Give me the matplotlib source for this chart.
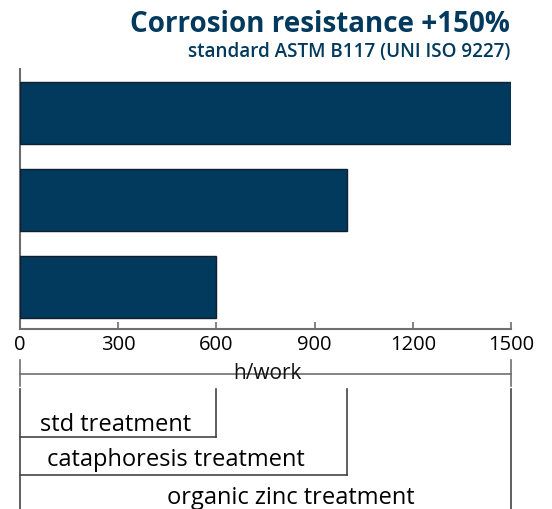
import matplotlib
matplotlib.use("Agg")
import matplotlib.pyplot as plt
from matplotlib.lines import Line2D
import matplotlib.transforms as mtransforms

# ---- data ----
categories = ["std treatment", "cataphoresis treatment", "organic zinc treatment"]
hours = [600, 1000, 1500]
xticks = [0, 300, 600, 900, 1200, 1500]
title = "Corrosion resistance +150%"
subtitle = "standard ASTM B117 (UNI ISO 9227)"
xlabel = "h/work"

W, H = 552, 509
DPI = 100
NAVY = "#023a5e"
GRAY = "#6e6e6e"
plt.rcParams['font.family'] = ['Open Sans', 'DejaVu Sans']

fig = plt.figure(figsize=(W / DPI, H / DPI), dpi=DPI)
fig.patch.set_facecolor("white")

def fy(py):
    return 1 - py / H

ax = fig.add_axes([20 / W, fy(329), (511 - 20) / W, (329 - 69) / H])
ypos = list(range(len(categories)))
ax.barh(ypos, hours, height=0.713, color=NAVY, edgecolor="#10202c", linewidth=1.0, zorder=3)
ax.set_xlim(0, 1500)
ax.set_ylim(-0.483, 2.506)
ax.set_yticks([])
ax.set_xticks(xticks)
ax.set_xticklabels([str(t) for t in xticks], fontsize=14.5, color="black")
ax.tick_params(axis="x", direction="in", length=5, width=1.2, color=GRAY, pad=4)
for s in ["top", "right"]:
    ax.spines[s].set_visible(False)
for s in ["left", "bottom"]:
    ax.spines[s].set_color(GRAY)
    ax.spines[s].set_linewidth(1.5)
ax.patch.set_alpha(0)

# titles
fig.text(510 / W, fy(32), title, ha="right", va="baseline", fontsize=20,
         fontweight="bold", color=NAVY)
fig.text(510 / W, fy(57.5), subtitle, ha="right", va="baseline", fontsize=13.6,
         fontweight="semibold", color=NAVY)

# bracket annotations below axis: x in data coords, y in figure coords
tr = mtransforms.blended_transform_factory(ax.transData, fig.transFigure)

def line(xs, ys, color=GRAY, lw=1.2):
    fig.add_artist(Line2D(xs, [fy(v) for v in ys], transform=tr, color=color,
                          lw=lw, clip_on=False))

# h/work bracket
x0, x1 = xticks[0], xticks[-1]
line([x0, x1], [374, 374])
line([x0, x0], [360, 386])
line([x1, x1], [360, 386])
fig.text(755, fy(379), xlabel, transform=tr, ha="center", va="baseline",
         fontsize=15, color="#111111")

# category brackets
line([0, 0], [389, 509], color="#444444")
bottoms = [437, 475, 509]
for h, b in zip(hours, bottoms):
    line([h, h], [389, b], color="#444444")
    if b < 509:
        line([0, h], [b, b], color="#444444")

label_x = [293, 477, 828]
label_y = [431, 466, 504]
for lab, lx, ly in zip(categories, label_x, label_y):
    fig.text(lx, fy(ly), lab, transform=tr, ha="center", va="baseline",
             fontsize=17, color="black")

fig.savefig("out.png", dpi=DPI, facecolor="white")
